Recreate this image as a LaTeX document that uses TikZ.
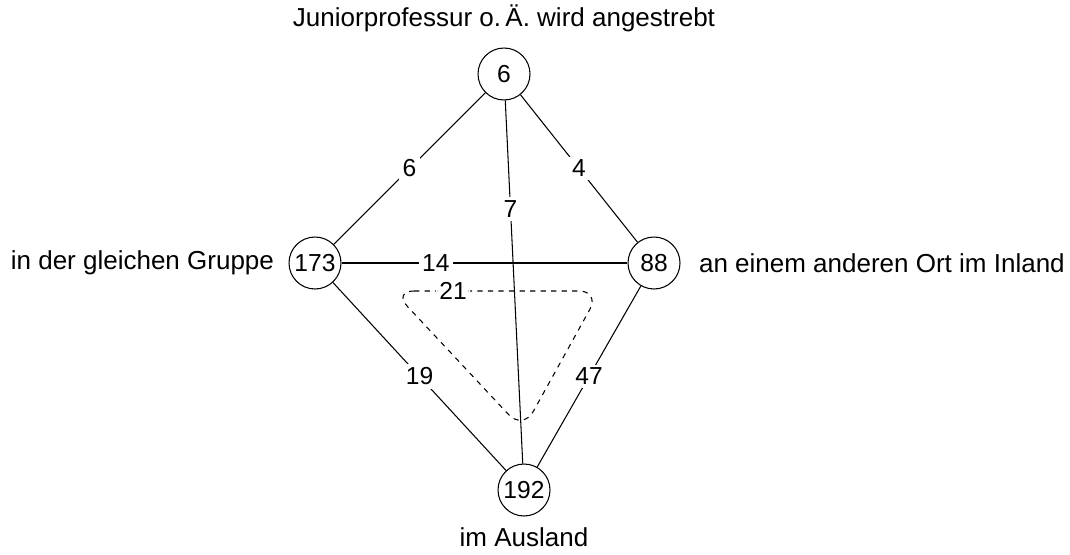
\documentclass[tikz,border=0pt]{standalone}
\usepackage{fontspec}
\setmainfont{Liberation Sans}
\usetikzlibrary{positioning}

\begin{document}
\begin{tikzpicture}[x=0.02cm,y=-0.02cm,font=\fontsize{14}{17}\selectfont,line width=0.6pt]
  \tikzstyle{place}=[draw,circle,minimum size=1.04cm,inner sep=0pt]
  \tikzstyle{count}=[fill=white,inner sep=2pt]
  \tikzstyle{tag}=[inner sep=0pt,font=\fontsize{14.8}{18}\selectfont]
  \useasboundingbox (0,0) rectangle (1070,554);
  % the four options
  \node[place] (jp) at (504,74) {6};
  \node[place] (grp) at (315,263) {173};
  \node[place] (inl) at (654,263) {88};
  \node[place] (aus) at (524,490) {192};
  \node[tag,above=0.3cm of jp] (jpt) {Juniorprofessur o.\,Ä. wird angestrebt};
  \node[tag,left=0.28cm of grp] (grpt) {in der gleichen Gruppe};
  \node[tag,right=0.36cm of inl] (inlt) {an einem anderen Ort im Inland};
  \node[tag,below=0.22cm of aus] (aust) {im Ausland};
  % pairs
  \draw (jp) -- node[count] {6} (grp);
  \draw (jp) -- node[count] {4} (inl);
  \draw (jp) -- node[count,pos=0.3] {7} (aus);
  \draw (grp) -- node[count,pos=0.33] {14} (inl);
  \draw (grp) -- node[count] {19} (aus);
  \draw (inl) -- node[count] {47} (aus);
  % all three
  \coordinate (d1) at (393,291);
  \coordinate (d2) at (600,291);
  \coordinate (d3) at (523,430);
  \draw[dashed,rounded corners=12pt] (d1) -- node[count,pos=0.29] {21} (d2) -- (d3) -- cycle;
\end{tikzpicture}
\end{document}
